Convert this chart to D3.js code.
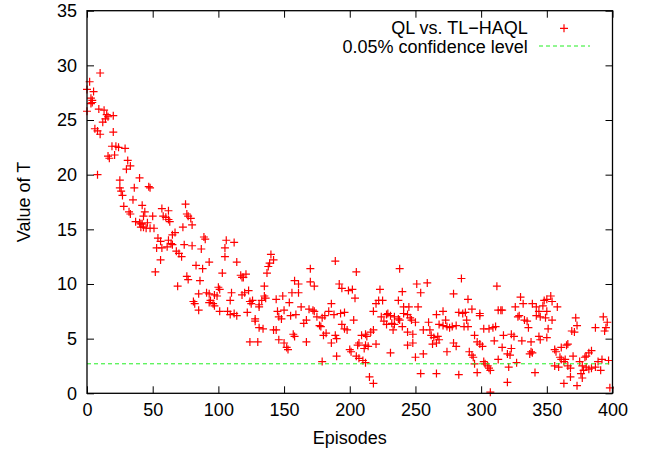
<!DOCTYPE html>
<html>
<head>
<meta charset="utf-8">
<script src="https://cdn.jsdelivr.net/npm/d3@7"></script>
<style>
  body { margin: 0; background: #fff; }
  svg { display: block; font-family: "Liberation Sans", Arial, sans-serif; }
</style>
</head>
<body>
<svg id="chart"></svg>
<script>
// [episode, value of T]
const points = [
  [0,27.8],[0,25.8],[2,28.5],[3,27.0],[3,26.5],[4,26.8],[4,26.6],[5,27.6],[6,24.2],[8,24.0],
  [8,20.0],[9,26.0],[10,29.3],[10,23.7],[12,24.8],[13,25.9],[14,25.1],[15,25.5],[16,25.3],[16,21.7],
  [17,21.5],[19,22.6],[20,25.4],[20,23.9],[21,21.8],[22,22.6],[24,22.5],[25,19.5],[25,18.8],[26,18.5],
  [27,18.1],[28,17.1],[29,22.4],[30,20.5],[31,21.3],[32,16.6],[33,20.8],[33,16.4],[35,17.7],[36,18.8],
  [37,15.7],[40,19.7],[40,15.6],[41,15.5],[41,15.2],[42,17.2],[42,15.5],[43,16.2],[43,15.2],[44,16.6],
  [45,15.1],[46,15.6],[47,18.9],[48,18.8],[48,15.1],[50,16.2],[51,15.1],[52,11.1],[53,13.3],[54,14.2],
  [56,13.9],[56,12.2],[57,16.9],[57,13.3],[58,16.2],[60,16.1],[61,13.4],[62,16.7],[62,15.9],[62,14.0],
  [63,15.7],[64,13.7],[65,14.5],[65,13.6],[67,14.7],[68,13.0],[69,9.8],[70,12.8],
  [72,12.5],[73,15.2],[74,13.6],[75,17.3],[76,16.4],[76,10.7],[77,16.2],[77,10.4],[79,16.0],[80,15.4],
  [80,13.5],[81,8.4],[82,8.2],[83,11.7],[85,9.1],[85,7.6],[86,10.3],[87,13.2],[88,11.4],[89,14.3],
  [90,14.1],[91,9.2],[93,12.0],[93,9.1],[93,8.3],[94,8.5],[96,8.2],[97,9.0],[97,8.0],[99,8.9],
  [100,9.7],[101,9.5],[101,7.5],[103,11.0],[105,13.3],[105,12.5],[106,14.0],[107,7.5],[109,8.5],[109,7.2],
  [110,9.2],[112,13.8],[112,7.3],[114,12.0],[114,7.1],[117,10.8],[118,10.6],[118,9.0],[119,10.6],[120,9.2],
  [121,10.9],[122,7.4],[123,9.4],[124,8.4],[124,4.7],[125,8.2],[126,8.5],[128,6.8],[128,6.6],[130,4.7],
  [131,7.9],[131,8.1],[131,6.0],[133,8.5],[134,5.9],[135,9.8],[135,8.9],[136,8.7],
  [137,11.0],[138,11.6],[139,11.9],[140,12.7],[142,12.2],[142,5.8],[144,8.6],[144,5.8],[145,7.5],[146,7.0],
  [146,4.9],[148,6.8],[149,8.9],[150,7.6],[150,4.6],[152,4.2],[153,4.0],[154,8.3],[155,7.1],[156,9.2],
  [157,5.4],[158,10.3],[158,5.2],[159,7.2],[161,10.0],[161,9.2],[163,7.9],[165,6.4],[167,6.7],[170,10.2],
  [167,4.7],[169,7.7],[170,11.4],[172,7.6],[173,9.8],[173,7.5],[175,7.0],[177,6.2],[179,6.9],[178,6.1],
  [179,2.9],[181,7.1],[180,5.3],[182,5.5],[184,7.5],[186,8.2],[186,4.6],[188,7.2],[189,12.1],[189,5.3],
  [190,5.0],[190,3.4],[192,10.0],[193,7.3],[194,9.6],[194,6.3],[196,7.4],[196,5.9],[198,5.8],[199,9.4],
  [200,4.0],[201,3.8],[202,9.5],[203,6.7],[204,8.7],[205,11.1],[205,3.4],
  [206,4.4],[207,4.6],[207,3.2],[209,5.3],[210,3.0],[211,4.1],[212,5.4],[212,4.4],[212,2.8],[213,5.2],
  [214,4.3],[215,1.5],[216,5.6],[218,5.8],[218,7.5],[218,0.9],[220,8.2],[220,4.5],[222,8.5],[223,9.5],
  [224,7.0],[225,8.5],[226,6.6],[228,7.2],[228,6.3],[229,7.3],[231,7.1],[231,3.7],[232,6.4],[233,5.8],
  [234,7.0],[234,6.3],[237,8.5],[237,6.8],[238,11.4],[238,6.7],[240,9.3],[240,6.1],[241,7.9],[241,7.3],
  [244,7.2],[245,7.9],[246,6.9],[244,5.6],[244,4.4],[247,6.7],[248,5.4],[248,4.6],[250,6.5],[250,3.3],
  [251,10.0],[252,7.9],[254,9.2],[254,1.8],[256,5.8],[256,3.6],[259,10.1],[260,6.5],[261,5.8],[262,5.3],
  [263,4.5],[264,5.1],[266,7.2],[266,4.6],[266,1.8],[267,5.2],[268,4.9],[268,6.3],[271,6.2],[271,7.5],
  [273,6.7],[274,6.1],[274,3.8],
  [276,6.0],[278,6.1],[279,4.6],[279,9.1],[281,6.2],[281,4.3],[283,7.4],[283,1.7],[285,10.5],[286,7.3],
  [287,6.1],[288,7.4],[289,6.7],[290,8.6],[290,6.1],[291,3.8],[293,7.7],[293,3.5],[294,3.3],[295,5.3],
  [295,2.7],[297,1.9],[297,4.7],[299,7.3],[299,7.1],[299,4.5],[301,4.3],[302,5.9],[302,2.9],[303,2.7],
  [305,2.5],[306,5.9],[306,2.3],[307,2.1],[307,0.1],[309,6.0],[310,4.8],[311,6.1],[312,9.8],[313,7.6],
  [313,3.1],[315,7.6],[316,7.6],[316,4.2],[317,5.3],[320,3.6],[320,1.0],[321,2.4],[322,3.5],[323,4.1],
  [323,5.4],[325,5.2],[326,7.9],[327,2.8],[328,7.0],[329,7.1],[330,8.8],[331,4.8],[332,8.2],[333,6.7],
  [335,6.6],[336,6.0],[337,3.6],[338,4.7],[338,3.8],[339,3.7],[339,8.2],[341,1.9],[342,7.9],[344,7.5],
  [344,5.2],
  [342,7.1],[345,7.0],[348,8.5],[350,8.6],[353,8.9],[354,8.4],[347,8.0],[350,7.5],[358,7.9],[349,6.9],
  [354,6.7],[351,5.9],[345,4.9],[350,5.1],[372,6.9],[373,6.2],[369,5.7],[371,5.6],[393,7.0],[396,6.5],
  [387,6.0],[395,6.0],[394,5.7],[356,4.0],[357,3.8],[361,4.2],[365,4.4],[366,4.5],[370,3.4],[360,3.3],
  [361,3.1],[363,2.9],[364,3.1],[366,2.5],[368,2.3],[356,2.5],[359,2.4],[375,2.9],[379,3.3],[380,3.4],
  [382,3.7],[384,3.9],[377,2.5],[378,2.1],[380,2.4],[382,2.2],[384,2.3],[387,2.4],[389,2.9],[392,3.1],
  [397,3.0],[391,2.1],[368,1.5],[377,1.4],[376,1.8],[363,0.9],[373,0.7],[398,0.5]
];

const confidenceLevel = 2.7;
const xTicks = [0, 50, 100, 150, 200, 250, 300, 350, 400];
const yTicks = [0, 5, 10, 15, 20, 25, 30, 35];
const seriesLabels = ['QL vs. TL\u2212HAQL', '0.05% confidence level'];

class TScatter {

  constructor(_config, _data) {
    this.config = {
      parentElement: _config.parentElement,
      containerWidth: _config.containerWidth || 649,
      containerHeight: _config.containerHeight || 451,
      margin: _config.margin || {top: 10.7, right: 36.5, bottom: 57.7, left: 87}
    }
    this.data = _data;
    this.initVis();
  }

  initVis() {
    let vis = this;

    vis.width = vis.config.containerWidth - vis.config.margin.left - vis.config.margin.right;
    vis.height = vis.config.containerHeight - vis.config.margin.top - vis.config.margin.bottom;

    vis.xScale = d3.scaleLinear()
      .domain([0, 400])
      .range([0, vis.width]);

    vis.yScale = d3.scaleLinear()
      .domain([0, 35])
      .range([vis.height, 0]);

    vis.svg = d3.select(vis.config.parentElement)
      .attr('width', vis.config.containerWidth)
      .attr('height', vis.config.containerHeight)
      .style('font-size', '18px');

    vis.chart = vis.svg.append('g')
      .attr('transform', `translate(${vis.config.margin.left},${vis.config.margin.top})`);

    // ticks point inward on all four sides, gnuplot style
    vis.xAxis = d3.axisBottom(vis.xScale).tickValues(xTicks).tickSizeInner(-7).tickSizeOuter(0).tickPadding(10);
    vis.yAxis = d3.axisLeft(vis.yScale).tickValues(yTicks).tickSizeInner(-7).tickSizeOuter(0).tickPadding(10);
    vis.xAxisTop = d3.axisTop(vis.xScale).tickValues(xTicks).tickSizeInner(-7).tickSizeOuter(0).tickFormat('');
    vis.yAxisRight = d3.axisRight(vis.yScale).tickValues(yTicks).tickSizeInner(-7).tickSizeOuter(0).tickFormat('');

    vis.renderVis();
  }

  renderVis() {
    let vis = this;

    const plus = 'M-4,0H4M0,-4V4';

    vis.chart.selectAll('.pt')
      .data(vis.data)
      .join('path')
      .attr('class', 'pt')
      .attr('transform', d => `translate(${vis.xScale(d[0])},${vis.yScale(d[1])})`)
      .attr('d', plus)
      .attr('fill', 'none')
      .attr('stroke', '#ff0000')
      .attr('stroke-width', 1.2);

    vis.chart.append('line')
      .attr('x1', vis.xScale(0))
      .attr('x2', vis.xScale(400))
      .attr('y1', vis.yScale(confidenceLevel))
      .attr('y2', vis.yScale(confidenceLevel))
      .attr('stroke', '#22ee22')
      .attr('stroke-width', 1)
      .attr('stroke-dasharray', '4,3');

    const axes = [
      [vis.xAxis, `translate(0,${vis.height})`],
      [vis.yAxis, null],
      [vis.xAxisTop, null],
      [vis.yAxisRight, `translate(${vis.width},0)`]
    ];
    axes.forEach(([ax, tr]) => {
      const g = vis.chart.append('g').call(ax);
      if (tr) g.attr('transform', tr);
      g.select('.domain').remove();
      g.selectAll('line').attr('stroke', '#000').attr('stroke-width', 1);
      g.selectAll('text').attr('fill', '#000').style('font-size', '18px')
        .style('font-family', '"Liberation Sans", Arial, sans-serif');
    });

    vis.chart.append('rect')
      .attr('width', vis.width)
      .attr('height', vis.height)
      .attr('fill', 'none')
      .attr('stroke', '#000')
      .attr('stroke-width', 1.3);

    vis.svg.append('text')
      .attr('x', vis.config.margin.left + vis.width / 2)
      .attr('y', 444)
      .attr('text-anchor', 'middle')
      .text('Episodes');

    vis.svg.append('text')
      .attr('transform', `translate(30,${vis.config.margin.top + vis.height / 2}) rotate(-90)`)
      .attr('text-anchor', 'middle')
      .text('Value of T');

    // legend
    const legend = vis.svg.append('g');
    legend.append('text')
      .attr('x', 527.7).attr('y', 33.5)
      .attr('text-anchor', 'end')
      .text(seriesLabels[0]);
    legend.append('path')
      .attr('transform', 'translate(564,28.3)')
      .attr('d', plus)
      .attr('stroke', '#ff0000')
      .attr('stroke-width', 1.2);
    legend.append('text')
      .attr('x', 527.7).attr('y', 52.5)
      .attr('text-anchor', 'end')
      .text(seriesLabels[1]);
    legend.append('line')
      .attr('x1', 539).attr('x2', 590)
      .attr('y1', 46).attr('y2', 46)
      .attr('stroke', '#22ee22')
      .attr('stroke-width', 1)
      .attr('stroke-dasharray', '4,3');
  }
}

new TScatter({parentElement: '#chart'}, points);
</script>
</body>
</html>
